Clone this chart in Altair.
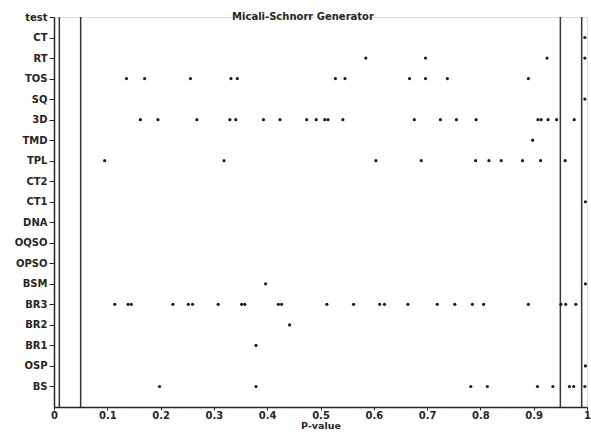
import altair as alt
import pandas as pd

# Row labels, bottom (level 1) to top (level 19)
tests = ["BS", "OSP", "BR1", "BR2", "BR3", "BSM", "OPSO", "OQSO", "DNA",
         "CT1", "CT2", "TPL", "TMD", "3D", "SQ", "TOS", "RT", "CT", "test"]

ct = [0.996]
rt = [0.585, 0.697, 0.925, 0.996]
tos = [0.136, 0.170, 0.256, 0.332, 0.344, 0.528, 0.546, 0.667, 0.697, 0.738, 0.890]
sq = [0.996]
d3 = [0.162, 0.195, 0.268, 0.330, 0.341, 0.393, 0.424, 0.474, 0.492, 0.508, 0.514,
      0.542, 0.676, 0.725, 0.755, 0.792, 0.908, 0.914, 0.927, 0.943, 0.976]
tmd = [0.898]
tpl = [0.095, 0.319, 0.604, 0.689, 0.791, 0.816, 0.839, 0.879, 0.913, 0.959]
ct2 = []
ct1 = [0.997]
dna = []
oqso = []
opso = []
bsm = [0.397, 0.997]
br3 = [0.114, 0.139, 0.145, 0.223, 0.252, 0.260, 0.308, 0.352, 0.358, 0.421, 0.427,
       0.512, 0.562, 0.611, 0.620, 0.664, 0.719, 0.752, 0.785, 0.806, 0.890, 0.951,
       0.960, 0.979]
br2 = [0.442]
br1 = [0.379]
osp = [0.997]
bs = [0.198, 0.379, 0.782, 0.813, 0.907, 0.936, 0.967, 0.975, 0.996]

cutoffs = [0.01, 0.05, 0.95, 0.99]
x_ticks = [0, 0.1, 0.2, 0.3, 0.4, 0.5, 0.6, 0.7, 0.8, 0.9, 1]

rows = {"CT": ct, "RT": rt, "TOS": tos, "SQ": sq, "3D": d3, "TMD": tmd, "TPL": tpl,
        "CT2": ct2, "CT1": ct1, "DNA": dna, "OQSO": oqso, "OPSO": opso, "BSM": bsm,
        "BR3": br3, "BR2": br2, "BR1": br1, "OSP": osp, "BS": bs}

records = []
for name, vals in rows.items():
    lvl = tests.index(name) + 1
    for v in vals:
        records.append({"test": name, "level": lvl, "p": v})
df = pd.DataFrame(records)
cut_df = pd.DataFrame({"c": cutoffs})

label_arr = "[''," + ",".join("'" + t + "'" for t in tests) + "]"

FONT = "DejaVu Sans"
INK = "#2a2523"

xscale = alt.Scale(domain=[0, 1], nice=False, zero=False)
yscale = alt.Scale(domain=[0, 19], nice=False, zero=True)

points = alt.Chart(df).mark_point(
    shape="circle", filled=True, size=10, color="#1a1a1a", opacity=1
).encode(
    x=alt.X("p:Q", scale=xscale,
            axis=alt.Axis(values=x_ticks, format="~g", title="P-value",
                          grid=False, labelFont=FONT, labelFontWeight="bold",
                          labelFontSize=10, labelColor=INK, titleFont=FONT,
                          titleFontWeight="bold", titleFontSize=9.5, titleColor=INK,
                          domainColor=INK, domainWidth=1.5, tickColor=INK,
                          tickSize=3, labelPadding=0, titlePadding=0,
                          labelFlush=False, labelOverlap=False)),
    y=alt.Y("level:Q", scale=yscale,
            axis=alt.Axis(values=list(range(1, 20)),
                          labelExpr=label_arr + "[datum.value]",
                          title=None, grid=False, labelFont=FONT,
                          labelFontWeight="bold", labelFontSize=10,
                          labelColor=INK, domainColor=INK, domainWidth=1.5,
                          tickColor=INK, tickSize=5, labelPadding=2,
                          labelOverlap=False, labelFlush=False)),
)

rules = alt.Chart(cut_df).mark_rule(color="#3b3330", strokeWidth=1.5).encode(
    x=alt.X("c:Q", scale=xscale)
)

title = alt.Chart(pd.DataFrame({"t": ["Micali-Schnorr Generator"]})).mark_text(
    font=FONT, fontWeight="bold", fontSize=10, color=INK, baseline="middle",
    align="center"
).encode(text="t:N", x=alt.value(249), y=alt.value(0))

chart = alt.layer(rules, points, title).properties(
    width=533, height=390,
    autosize=alt.AutoSizeParams(type="none"),
    padding={"left": 54, "top": 17, "right": 4, "bottom": 27},
).configure_view(stroke=None).configure(background="white")

chart.save("out.html", embed_options={"renderer": "svg", "actions": False})
